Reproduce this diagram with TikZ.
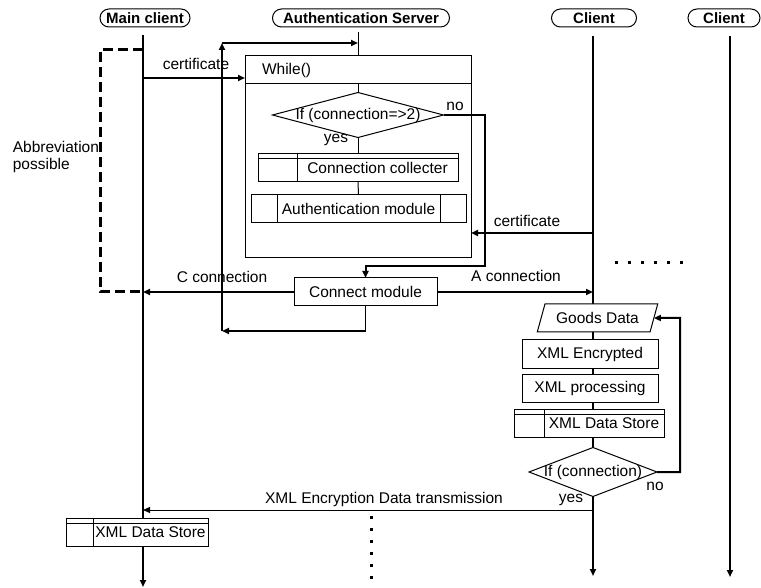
\documentclass[tikz,border=0pt]{standalone}
\usepackage{fontspec}
\setmainfont{Liberation Sans}
\usetikzlibrary{arrows.meta,positioning,shapes.geometric,shapes.misc}

\newcommand{\lblfont}{\fontsize{15.5}{17}\selectfont}
\newcommand{\headfont}{\fontsize{15}{17}\selectfont\bfseries}

\tikzset{
  seqA/.style={
    every node/.style={inner sep=0pt, outer sep=0pt},
    >={Triangle[length=7pt, width=6pt]},
    line join=miter,
  },
  headBox/.style={
    rounded rectangle, draw, line width=1pt, fill=white,
    minimum height=18, font=\headfont,
  },
  procBox/.style={
    rectangle, draw, line width=1pt, fill=white,
    minimum height=28, font=\lblfont,
  },
  storeBox/.style={
    procBox,
    path picture={
      \draw[line width=1pt]
        ([yshift=-5pt]path picture bounding box.north west) --
        ([yshift=-5pt]path picture bounding box.north east);
      \draw[line width=1pt]
        ([xshift=#1]path picture bounding box.north west) --
        ([xshift=#1]path picture bounding box.south west);
    },
  },
  subBox/.style={
    procBox,
    path picture={
      \draw[line width=1pt]
        ([xshift=#1]path picture bounding box.north west) --
        ([xshift=#1]path picture bounding box.south west);
      \draw[line width=1pt]
        ([xshift=-#1]path picture bounding box.north east) --
        ([xshift=-#1]path picture bounding box.south east);
    },
  },
  decision/.style={diamond, draw, line width=1pt, fill=white},
  dataBox/.style={
    trapezium, trapezium left angle=62, trapezium right angle=118,
    trapezium stretches=true, draw, line width=1pt, fill=white,
    font=\lblfont,
  },
  lbl/.style={font=\lblfont},
  lifeLine/.style={->, line width=2pt},
  flow/.style={->, line width=2pt},
  thinFlow/.style={->, line width=1pt},
  thinLine/.style={line width=1pt},
  abbrBox/.style={line width=3pt, dash pattern=on 10pt off 5pt},
  dotRow/.style={line width=3pt, dash pattern=on 3pt off 10pt},
}

\begin{document}
\begin{tikzpicture}[seqA, x=1pt, y=-1pt]
\useasboundingbox (0,0) rectangle (761,588);

% ============================================================
% Heads and lifelines
% ============================================================
\node[headBox, minimum width=90]  (mainH)   at (145,18) {Main client};
\node[headBox, minimum width=177] (authH)   at (361,18) {Authentication Server};
\node[headBox, minimum width=85]  (cliH)    at (594,18) {Client};
\node[headBox, minimum width=72]  (cliTwoH) at (724,18) {Client};

\coordinate (mainTop)   at (143,35);
\coordinate (mainBot)   at (143,587);
\coordinate (authTop)   at (358,32);
\coordinate (cliTop)    at (593,36);
\coordinate (cliBot)    at (593,576);
\coordinate (cliTwoTop) at (730,36);
\coordinate (cliTwoBot) at (730,577);

\draw[lifeLine] (mainTop) -- (mainBot);
\draw[lifeLine] (cliTop) -- (cliBot);
\draw[lifeLine] (cliTwoTop) -- (cliTwoBot);

% Abbreviation bracket on the main client
\coordinate (abbTop) at (143,50);
\coordinate (abbBot) at (143,292);
\draw[abbrBox] (abbTop) -- ++(-43,0) |- (abbBot);
\node[lbl, anchor=east, align=left] (abbLbl) at (99,157)
  {Abbreviation\\possible};

% ============================================================
% Authentication server: While() loop
% ============================================================
\node[draw, line width=1pt, minimum width=226, minimum height=202,
      anchor=north west] (loop) at (245,56) {};
\node[draw, line width=1pt, anchor=north west, minimum height=28,
      text width=192, inner xsep=17, align=left, font=\lblfont]
  (whileT) at (loop.north west) {While()};
\draw[thinLine] (authTop) -- (loop.north);

\node[decision, minimum width=171, minimum height=45] (qOne) at (358,115) {};
\node[lbl] (qOneTxt) at (qOne) {If (connection=>2)};
\node[lbl] (qOneNo)  at (455,106) {no};
\node[lbl] (qOneYes) at (336,140) {yes};

\node[storeBox=39, minimum width=200] (collect) at (358,168)
  {\hspace*{39pt}Connection collecter};
\node[subBox=26, minimum width=215] (authMod) at (358.5,209)
  {Authentication module};

\draw[thinLine] (whileT.south -| qOne) -- (qOne.north);
\draw[thinLine] (qOne.south) -- (collect.north);
\draw[thinLine] (collect.south) -- (authMod.north);

% ============================================================
% Connect module and its connections
% ============================================================
\node[procBox, minimum width=143] (conn) at (365.5,292) {Connect module};

\coordinate (noR) at (485,266);
\draw[flow] (qOne.east) -| (noR) -| (conn.north);

\coordinate (certA) at (143,78);
\draw[flow] (certA) -- (certA -| loop.west);
\node[lbl] (certALbl) at (196,64) {certificate};

\coordinate (certB) at (593,233);
\draw[flow] (certB) -- (certB -| loop.east);
\node[lbl] (certBLbl) at (527,221) {certificate};

\draw[flow] (conn.west) -- (conn.west -| mainTop);
\node[lbl] (cConnLbl) at (222,277) {C connection};
\draw[flow] (conn.east) -- (conn.east -| cliTop);
\node[lbl] (aConnLbl) at (516,276) {A connection};

% return path back to the server
\coordinate (retL)   at (222,331);
\coordinate (retTop) at (222,43);
\draw[thinLine] (conn.south) -- (conn.south |- retL);
\draw[flow] (conn.south |- retL) -- (retL);
\draw[flow] (retL) -- (retTop);
\draw[flow] (retTop) -- (retTop -| authTop);

\draw[dotRow] (615,263) -- (684,263);

% ============================================================
% Client: data processing chain
% ============================================================
\node[dataBox, minimum width=121, minimum height=28] (goods) at (597.5,318)
  {Goods Data};
\node[procBox, minimum width=136] (xmlEnc)  at (590,354)   {XML Encrypted};
\node[procBox, minimum width=136] (xmlProc) at (590,388.5) {XML processing};
\node[storeBox=30, minimum width=150] (cliStore) at (589,423)
  {\hspace*{30pt}XML Data Store};

\node[decision, minimum width=128, minimum height=49] (qTwo) at (593,472) {};
\node[lbl] (qTwoTxt) at (qTwo) {If (connection)};
\node[lbl] (qTwoNo)  at (655,486) {no};
\node[lbl] (qTwoYes) at (571,500) {yes};

\coordinate (loopR) at (680,318);
\draw[flow] (qTwo.east) -| (loopR) -- (goods.east);

\coordinate (yesP) at (593,510);
\draw[thinFlow] (yesP) -- (yesP -| mainTop);
\node[lbl] (sendLbl) at (384,499) {XML Encryption Data transmission};

% ============================================================
% Main client: store
% ============================================================
\node[storeBox=27, minimum width=142] (mainStore) at (137,532)
  {\hspace*{27pt}XML Data Store};

\draw[dotRow, dash pattern=on 3pt off 9pt] (371,516) -- (371,583);

\end{tikzpicture}
\end{document}
